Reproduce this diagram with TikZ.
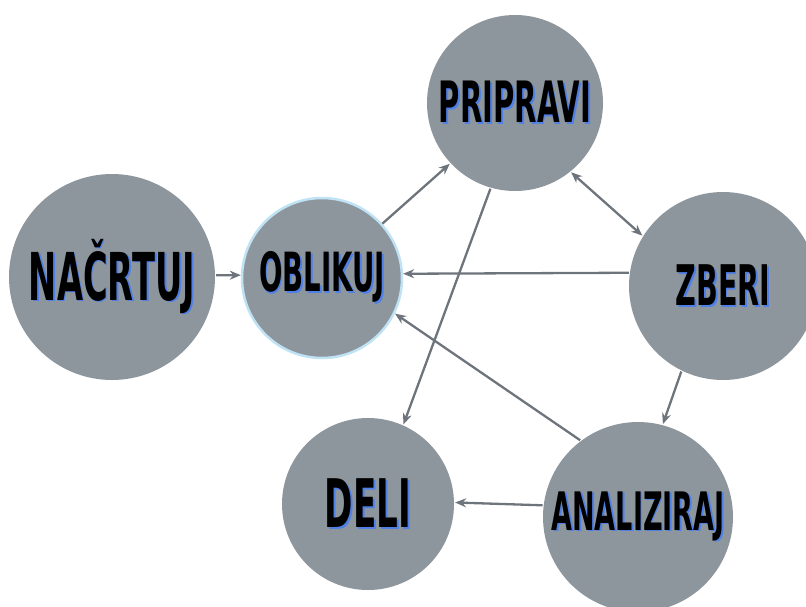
\documentclass[tikz,border=0pt]{standalone}
\usepackage{fontspec}
\usetikzlibrary{arrows.meta}
\newfontfamily\lblfont[FakeStretch=0.51]{DejaVu Sans}
\definecolor{circlegray}{HTML}{8E969D}
\definecolor{arrowgray}{HTML}{6E747B}
\definecolor{shadowblue}{HTML}{4F80E6}
\definecolor{glowblue}{HTML}{BFE3F5}
\newcommand{\lbl}[2]{\fontsize{#1}{#1}\selectfont\makebox[0pt][l]{\hspace{1.8pt}\raisebox{-1.8pt}{\color{shadowblue}#2}}#2}
\begin{document}
\begin{tikzpicture}[x=1pt, y=-1pt, >={Stealth[length=11pt,width=9pt]}, line width=2.3pt, phase node/.style={circle,fill=circlegray,minimum size=#1,inner sep=0pt,font=\lblfont\bfseries}]%
\useasboundingbox (0,0) rectangle (806,606);
\begin{scope}
\node[phase node=206pt] (nacrtuj) at (112,277) {\lbl{66}{NAČRTUJ}};
\node[phase node=160pt, draw=glowblue, line width=2.5pt] (oblikuj) at (322,278) {\lbl{54}{OBLIKUJ}};
\node[phase node=176pt] (pripravi) at (515,103) {\lbl{57}{PRIPRAVI}};
\node[phase node=188pt] (zberi) at (723,286) {\lbl{56}{ZBERI}};
\node[phase node=172pt] (deli) at (368,504) {\lbl{67}{DELI}};
\node[phase node=190pt] (analiziraj) at (638,517) {\lbl{53}{ANALIZIRAJ}};
\end{scope}
\begin{scope}[draw=arrowgray]
\draw[->] (nacrtuj.1) -- (oblikuj.178);
\draw[->] (oblikuj.42) -- (pripravi.223);
\draw[<->] (pripravi.-51) -- (zberi.148);
\draw[->] (zberi.172) -- (oblikuj.3);
\draw[->] (pripravi.254) -- (deli.66);
\draw[->] (analiziraj.127) -- (oblikuj.-26);
\draw[->] (zberi.244) -- (analiziraj.75);
\draw[->] (analiziraj.173) -- (deli.1);
\end{scope}
\end{tikzpicture}
\end{document}
